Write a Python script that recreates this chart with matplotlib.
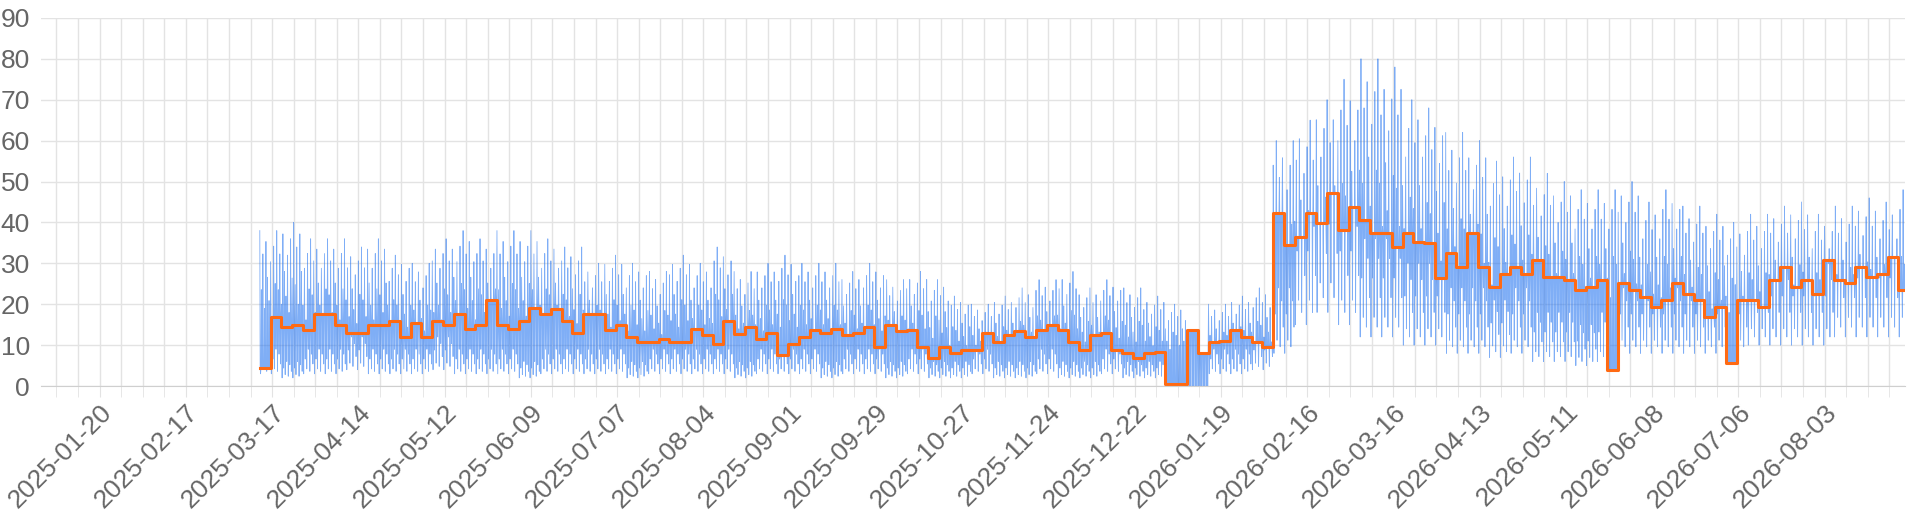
import numpy as np
import pandas as pd
import matplotlib
matplotlib.use("Agg")
import matplotlib.pyplot as plt
import matplotlib.dates as mdates

plt.rcParams["font.family"] = ["Liberation Sans", "DejaVu Sans"]

# orange: half-week averages, starting 2025-03-13
avg_start = "2025-03-13"
avg_vals = [
    4.4, 16.8, 14.5, 15, 13.6, 17.6, 17.6, 15, 13, 13, 15, 15, 16, 12, 15.5, 12,
    16, 15, 17.6, 14, 15, 21, 15, 14, 16, 19, 17.6, 18.8, 16, 13, 17.6, 17.6,
    13.6, 15, 12, 10.8, 10.8, 11.6, 10.8, 10.8, 14, 12.4, 10.4, 16, 12.8, 14.5,
    11.6, 13, 7.6, 10.4, 12,
    13.6, 13, 14, 12.4, 13, 14.5, 9.6, 15, 13.4, 13.6, 9.6, 6.8, 9.6,
    8, 8.8, 8.8, 13, 10.8, 12.4, 13.4, 12, 13.6, 15, 13.6, 10.8, 8.8, 12.4,
    13, 8.8, 8, 6.8, 8, 8.4, 0.6, 0.6, 13.6, 8, 10.8, 11, 13.6, 12, 10.8, 9.6,
    42.3, 34.4, 36.5, 42.3, 39.8, 47.1, 38.2, 43.7, 40.6, 37.3, 37.3, 34.1, 37.3,
    35.3, 34.9, 26.3, 32.5, 29.2, 37.3, 29.2, 24.3, 27.5, 29.2, 27.5, 30.8, 26.7,
    26.7, 25.9, 23.4, 24.3, 25.9, 3.9, 25.1, 23.4, 21.7, 19.4, 21, 25.1, 22.6,
    21, 16.8, 19.4, 5.6, 21, 21, 19.4, 25.9, 29.2, 24.3, 25.9, 22.6, 30.8, 25.9,
    25.1, 29.2, 26.7, 27.5, 31.6, 23.4,
]

# blue: weekly peak and trough of the raw series, starting 2025-03-13
week_hi = [
    38, 40, 36, 36, 34, 36, 32, 30, 36, 38, 36, 38, 38, 36, 34, 30, 32, 30, 28, 32,
    30, 34, 28, 30, 32, 30,
    30, 28, 30, 26, 28, 26, 22, 20, 22, 24, 26, 28, 24, 26, 24, 22, 20, 6, 20, 22,
    24, 60,
    65, 70, 75, 80, 78, 70, 68, 62, 60, 55, 56, 52, 50, 48, 48, 50, 45, 48, 44, 42,
    40, 42, 44, 45, 42, 44, 46, 45, 48, 50,
]
week_lo = [
    3, 2, 3, 3, 4, 3, 3, 3, 4, 3, 3, 3, 2, 3, 3, 3, 3, 2, 3, 3, 3, 3, 2, 3, 3, 3,
    2, 3, 3, 2, 3, 2, 2, 3, 2, 2, 3, 2, 2, 3, 2, 2, 2, 0, 3, 3, 4, 8,
    15, 18, 15, 12, 12, 10, 10, 8, 8, 7, 8, 6, 6, 5, 6, 8, 8, 8, 8, 8, 8, 10,
    10, 10, 10, 12, 12, 12, 12, 14,
]

# relative size of successive peaks / troughs as seen in the raw trace
peak_shape = [1.0, 0.62, 0.85, 0.5, 0.93, 0.7, 0.55, 0.8, 0.45, 0.9, 0.66]
trough_shape = [1.0, 2.2, 1.4, 3.0, 1.2, 2.6, 1.8]

t0 = pd.Timestamp(avg_start)
avg_t = t0 + pd.to_timedelta(np.arange(len(avg_vals)) * 3.5, unit="D")
t_end = avg_t[-1] + pd.Timedelta(days=3.5)

# raw series: 3-hourly points cycling peak / mean / trough / mean
raw_t, raw_v = [], []
t = t0
k = 0
while t < t_end:
    w = min(int((t - t0).days // 7), len(week_hi) - 1)
    a = min(int((t - t0) / pd.Timedelta(days=3.5)), len(avg_vals) - 1)
    cyc = k // 4
    hi = max(week_hi[w] * peak_shape[cyc % len(peak_shape)], avg_vals[a])
    lo = min(week_lo[w] * trough_shape[cyc % len(trough_shape)], avg_vals[a])
    v = [hi, avg_vals[a], lo, avg_vals[a]][k % 4]
    raw_t.append(t)
    raw_v.append(v)
    t += pd.Timedelta(hours=3)
    k += 1

fig = plt.figure(figsize=(19.2, 5.12), dpi=100)
ax = fig.add_axes([0.0214, 0.246, 0.9706, 0.719])

ax.plot(raw_t, raw_v, color="#2a78f0", lw=0.6, alpha=0.6)
ax.step(list(avg_t) + [t_end], avg_vals + [avg_vals[-1]], where="post",
        color="#ff6a13", lw=2.2)

ax.set_xlim(pd.Timestamp("2025-01-01"), pd.Timestamp("2026-08-29"))
ax.set_ylim(0, 90)
ax.set_yticks(range(0, 91, 10))

major = pd.date_range("2025-01-20", "2026-08-29", freq="28D")
minor = pd.date_range("2025-01-06", "2026-08-29", freq="7D")
ax.set_xticks(major)
ax.set_xticks(minor, minor=True)
ax.xaxis.set_major_formatter(mdates.DateFormatter("%Y-%m-%d"))
ax.grid(True, which="both", axis="x", color="#e3e3e3", lw=1)
ax.grid(True, which="major", axis="y", color="#e3e3e3", lw=1)
ax.set_axisbelow(True)

for s in ["top", "right", "left"]:
    ax.spines[s].set_visible(False)
ax.spines["bottom"].set_color("#cfcfcf")
ax.tick_params(axis="x", which="both", length=8, color="#e3e3e3",
               labelsize=19, labelcolor="#666666", pad=2)
ax.tick_params(axis="y", length=0, labelsize=19, labelcolor="#666666", pad=8)
plt.setp(ax.get_xticklabels(), rotation=45, ha="right", rotation_mode="anchor")

fig.savefig("out.png", dpi=100)
